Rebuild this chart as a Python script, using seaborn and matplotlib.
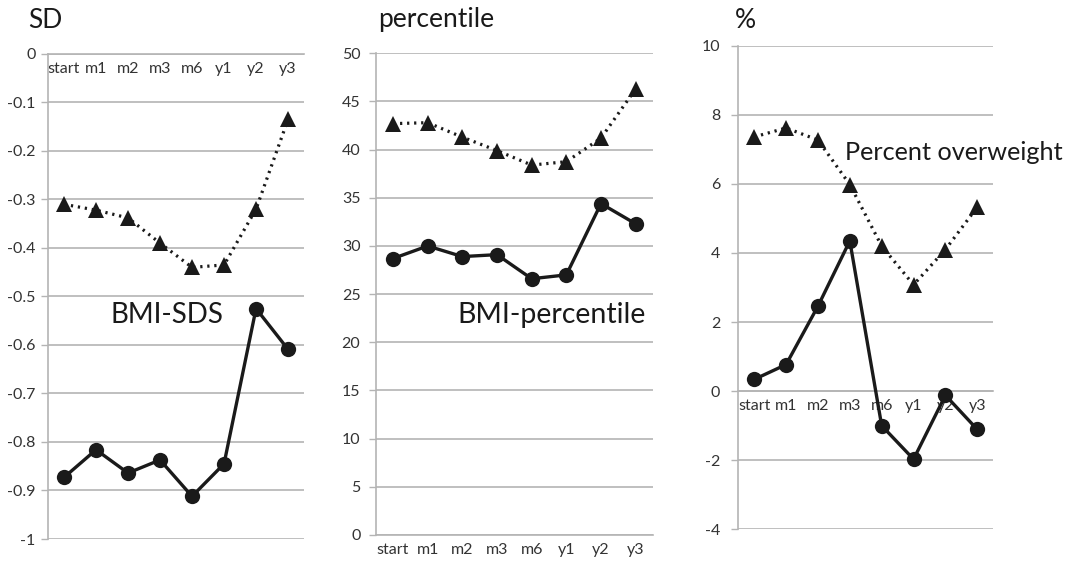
import numpy as np
import pandas as pd
import seaborn as sns
from matplotlib import pyplot as plt

stages = ['start', 'm1', 'm2', 'm3', 'm6', 'y1', 'y2', 'y3']

sds_tri = [-0.31, -0.322, -0.338, -0.39, -0.44, -0.435, -0.32, -0.135]
sds_circ = [-0.873, -0.816, -0.864, -0.837, -0.912, -0.845, -0.525, -0.609]

pct_tri = [42.7, 42.8, 41.3, 39.9, 38.4, 38.75, 41.2, 46.3]
pct_circ = [28.7, 30.0, 28.9, 29.1, 26.6, 27.0, 34.4, 32.3]

ow_tri = [7.36, 7.62, 7.27, 5.98, 4.2, 3.08, 4.1, 5.33]
ow_circ = [0.34, 0.77, 2.46, 4.35, -1.0, -1.97, -0.12, -1.11]

sns.set_style('white')
plt.rcParams['font.family'] = ['Lato', 'DejaVu Sans']

GRID = '#b4b4b4'
INK = '#1a1a1a'
TXT = '#333333'

fig = plt.figure(figsize=(10.74, 5.66), dpi=100)
ax1 = fig.add_axes([0.0447, 0.0477, 0.2384, 0.857])
ax2 = fig.add_axes([0.3498, 0.0548, 0.2582, 0.851])
ax3 = fig.add_axes([0.6874, 0.0648, 0.2374, 0.8544])

x = np.arange(len(stages))


def panel(ax, tri, circ, yticks, ylabels, ypad):
    sns.lineplot(x=x, y=tri, ax=ax, color=INK, lw=2.3, marker='^', markersize=12,
                 markeredgewidth=0, linestyle=(0, (0.7, 1.5)), zorder=4)
    sns.lineplot(x=x, y=circ, ax=ax, color=INK, lw=2.4, marker='o', markersize=11,
                 markeredgewidth=0, zorder=4)
    ax.set_xlim(-0.5, len(stages) - 0.5)
    ax.set_ylim(yticks[0], yticks[-1])
    ax.set_yticks(yticks)
    ax.set_yticklabels(ylabels)
    ax.set_xticks(x)
    ax.set_xticklabels(stages)
    ax.set_xticks(np.arange(-0.5, len(stages)), minor=True)
    ax.tick_params(axis='x', which='major', length=0, pad=6, labelsize=11.5, labelcolor=TXT)
    ax.tick_params(axis='x', which='minor', length=5, width=1, color=GRID, direction='out')
    ax.tick_params(axis='y', length=5, width=1, color=GRID, pad=ypad, labelsize=11.5,
                   labelcolor=TXT, left=True)
    ax.yaxis.grid(True, color=GRID, lw=1.2)
    ax.set_axisbelow(True)
    for s in ['top', 'right']:
        ax.spines[s].set_visible(False)
    for s in ['left', 'bottom']:
        ax.spines[s].set_color(GRID)
        ax.spines[s].set_linewidth(1.2)
    ax.spines['bottom'].set_position(('data', 0))
    ax.set_xlabel('')
    ax.set_ylabel('')


panel(ax1, sds_tri, sds_circ, np.round(np.arange(-1.0, 0.01, 0.1), 1),
      ['-1', '-0.9', '-0.8', '-0.7', '-0.6', '-0.5', '-0.4', '-0.3', '-0.2', '-0.1', '0'], 4)
panel(ax2, pct_tri, pct_circ, np.arange(0, 51, 5),
      [str(v) for v in range(0, 51, 5)], 6)
panel(ax3, ow_tri, ow_circ, np.arange(-4, 11, 2),
      [str(v) for v in range(-4, 11, 2)], 8)

ax1.text(1.44, -0.555, 'BMI-SDS', fontsize=20, color=INK, va='baseline', ha='left')
ax2.text(1.85, 22.0, 'BMI-percentile', fontsize=20.5, color=INK, va='baseline', ha='left')
ax3.text(2.85, 6.69, 'Percent overweight', fontsize=18.2, color=INK, va='baseline', ha='left')

fig.text(28 / 1074, 1 - 28 / 566, 'SD', fontsize=19, color=INK, va='baseline')
fig.text(378 / 1074, 1 - 27 / 566, 'percentile', fontsize=19, color=INK, va='baseline')
fig.text(735 / 1074, 1 - 28 / 566, '%', fontsize=19, color=INK, va='baseline')

fig.savefig('out.png', dpi=100)
